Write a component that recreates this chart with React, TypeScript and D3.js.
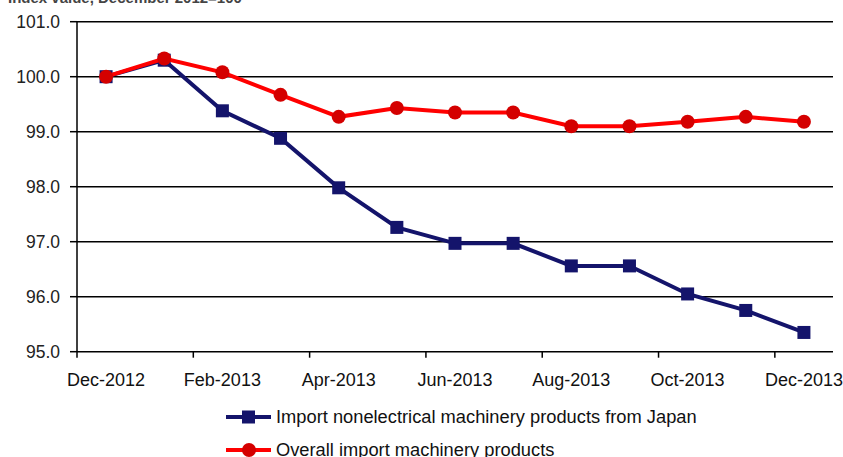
import React from 'react';
import * as d3 from 'd3';

const months = ['Dec-2012', 'Jan-2013', 'Feb-2013', 'Mar-2013', 'Apr-2013', 'May-2013', 'Jun-2013',
    'Jul-2013', 'Aug-2013', 'Sep-2013', 'Oct-2013', 'Nov-2013', 'Dec-2013'];
const japanValues = [100.0, 100.3, 99.38, 98.88, 97.98, 97.26, 96.97, 96.97, 96.56, 96.56, 96.05, 95.75, 95.35];
const overallValues = [100.0, 100.33, 100.08, 99.67, 99.27, 99.43, 99.35, 99.35, 99.1, 99.1, 99.18, 99.27, 99.18];
const yTicks = [95, 96, 97, 98, 99, 100, 101];
const xLabels = ['Dec-2012', 'Feb-2013', 'Apr-2013', 'Jun-2013', 'Aug-2013', 'Oct-2013', 'Dec-2013'];

const W = 843, H = 457;
const left = 77, right = 833, top = 21.7, bottom = 351.7;
const navy = '#14146b';
const red = '#ff0000';
const font = '"Liberation Sans", Arial, sans-serif';

const App = () => {
    const x = d3.scaleBand().domain(months).range([left, right]);
    const y = d3.scaleLinear().domain([95, 101]).range([bottom, top]);
    const cx = (m: string) => (x(m) as number) + x.bandwidth() / 2;

    const line = d3.line<number>()
        .x((_, i) => cx(months[i]))
        .y(d => y(d));

    // tick marks at every second band boundary
    const boundaries = d3.range(0, months.length + 1, 2).map(i => left + i * x.bandwidth());

    return (
        <svg width={W} height={H} style={{ position: 'absolute', left: 0, top: 0, background: '#fff' }}>
            <text x={8} y={3} fontFamily={font} fontSize={15} fontWeight="bold" fill="#444">
                Index value, December 2012=100
            </text>

            {yTicks.map(t => (
                <g key={t}>
                    <line x1={left} x2={right} y1={y(t)} y2={y(t)} stroke="#000" strokeWidth={1.5} />
                    <line x1={left - 7} x2={left} y1={y(t)} y2={y(t)} stroke="#000" strokeWidth={1.5} />
                    <text x={60} y={y(t)} dy="0.35em" textAnchor="end" fontFamily={font}
                        fontSize={17.5} fill="#222">{t.toFixed(1)}</text>
                </g>
            ))}
            <line x1={left} x2={left} y1={top} y2={bottom} stroke="#000" strokeWidth={1.5} />

            {boundaries.map((b, i) => (
                <line key={i} x1={b} x2={b} y1={bottom} y2={bottom + 6} stroke="#000" strokeWidth={1.5} />
            ))}
            {xLabels.map(l => (
                <text key={l} x={cx(l === 'Dec-2013' ? months[12] : l)} y={386} textAnchor="middle"
                    fontFamily={font} fontSize={18} fill="#111">{l}</text>
            ))}

            <path d={line(japanValues) ?? ''} fill="none" stroke={navy} strokeWidth={4} />
            {japanValues.map((v, i) => (
                <rect key={i} x={cx(months[i]) - 6.5} y={y(v) - 6.5} width={13} height={13} fill={navy} />
            ))}

            <path d={line(overallValues) ?? ''} fill="none" stroke={red} strokeWidth={4} />
            {overallValues.map((v, i) => (
                <circle key={i} cx={cx(months[i])} cy={y(v)} r={7} fill="#d40000" />
            ))}

            <g>
                <line x1={226} x2={271} y1={417} y2={417} stroke={navy} strokeWidth={4} />
                <rect x={242} y={410.5} width={13} height={13} fill={navy} />
                <text x={276} y={417} dy="0.35em" fontFamily={font} fontSize={18.3} fill="#111">
                    Import nonelectrical machinery products from Japan
                </text>
                <line x1={226} x2={271} y1={450} y2={450} stroke={red} strokeWidth={4} />
                <circle cx={249} cy={450} r={7} fill="#d40000" />
                <text x={276} y={450} dy="0.35em" fontFamily={font} fontSize={18.3} fill="#111">
                    Overall import machinery products
                </text>
            </g>
        </svg>
    );
};

export default App;
